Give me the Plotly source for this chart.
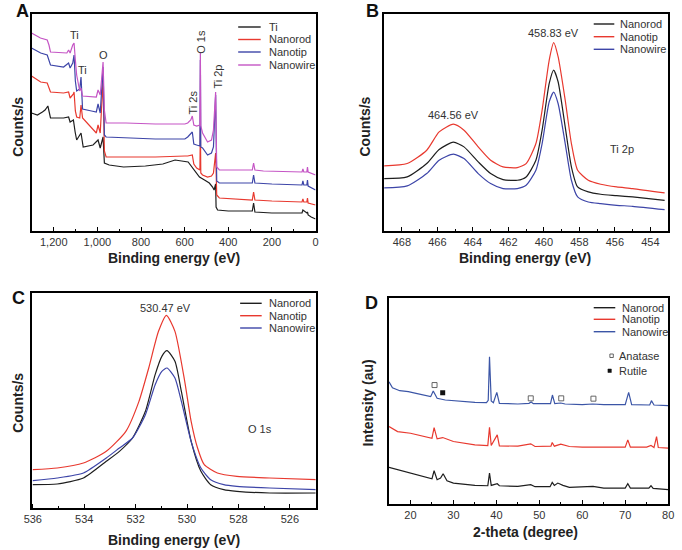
import plotly.graph_objects as go

W, H = 682, 550

# ---------------- Panel A: XPS survey ----------------
a_names = ["Ti", "Nanorod", "Nanotip", "Nanowire"]
a_ti_x = [1302, 1275, 1252, 1240, 1227, 1220, 1215, 1155, 1132, 1125, 1110, 1102, 1095, 1075, 1065, 1020, 997, 987, 974, 968, 946, 880, 780, 700, 644, 584, 562, 546, 532, 509, 487, 472, 465, 458, 456, 449, 400, 290, 284, 278, 200, 100, 62, 58, 40, 37, 34, 20, 0]
a_ti_y = [118, 116, 119, 121, 125, 116, 113, 113, 114, 109, 111, 99, 91, 98, 84, 86, 91, 83, 94, 68, 66, 64, 65, 67, 71, 69, 63, 59, 54, 51, 48, 44, 41, 47, 24, 21, 20, 20, 28, 19, 18, 18, 18, 21, 18, 19, 16, 14, 12]
a_rod_x = [1302, 1260, 1230, 1222, 1215, 1155, 1132, 1125, 1110, 1107, 1101, 1095, 1081, 1075, 1068, 1005, 997, 987, 974, 968, 960, 869, 734, 599, 586, 565, 558, 545, 530, 528, 526, 518, 495, 477, 468, 458, 453, 441, 374, 290, 284, 278, 200, 62, 58, 54, 40, 37, 34, 0]
a_rod_y = [155, 149, 148, 143, 139, 138, 139, 133, 137, 139, 120, 114, 113, 126, 113, 98, 106, 98, 151, 80, 74, 74, 74, 75, 75, 76, 67, 63, 61, 106, 58, 56, 54, 55, 58, 78, 36, 33, 32, 31, 39, 31, 30, 29, 32, 29, 29, 33, 28, 26]
a_tip_x = [1302, 1260, 1230, 1222, 1215, 1155, 1132, 1125, 1113, 1107, 1101, 1095, 1081, 1075, 1068, 1027, 1005, 997, 987, 974, 968, 960, 869, 734, 599, 586, 565, 558, 545, 530, 528, 526, 518, 495, 477, 468, 458, 453, 441, 374, 290, 284, 278, 200, 62, 58, 54, 40, 37, 34, 0]
a_tip_y = [183, 178, 176, 171, 166, 164, 168, 163, 168, 176, 150, 140, 142, 154, 122, 120, 119, 127, 118, 164, 96, 94, 93, 92, 92, 94, 99, 87, 86, 85, 171, 84, 83, 76, 78, 84, 136, 50, 48, 48, 48, 56, 48, 47, 46, 50, 46, 46, 51, 45, 41]
a_wire_x = [1302, 1261, 1230, 1222, 1215, 1153, 1140, 1132, 1125, 1113, 1107, 1101, 1095, 1081, 1075, 1068, 1005, 997, 987, 974, 968, 960, 869, 734, 599, 586, 572, 565, 558, 545, 530, 528, 526, 518, 495, 477, 468, 458, 453, 441, 374, 290, 284, 278, 239, 62, 58, 54, 40, 37, 34, 0]
a_wire_y = [198, 193, 191, 186, 179, 178, 178, 181, 178, 186, 188, 171, 156, 140, 143, 135, 134, 141, 136, 169, 121, 108, 108, 107, 107, 108, 111, 115, 106, 105, 106, 178, 105, 98, 89, 91, 101, 139, 64, 61, 61, 61, 68, 61, 60, 59, 62, 59, 59, 64, 59, 56]

# ---------------- Panel B: Ti 2p ----------------
b_names = ["Nanorod", "Nanotip", "Nanowire"]
b_x = [469.0, 467.7, 466.6, 465.9, 465.1, 464.5, 463.7, 463.0, 462.3, 461.5, 461.0, 460.45, 460.1, 459.7, 459.45, 459.2, 458.8, 458.45, 458.1, 457.5, 456.8, 455.9, 455.0, 453.2]
b_rod = [157, 162, 202, 244, 266, 252, 207, 172, 154, 152, 162, 212, 302, 442, 482, 447, 312, 192, 132, 117, 110, 106, 102, 92]
b_tip = [195, 202, 242, 297, 320, 302, 252, 212, 192, 190, 202, 262, 362, 512, 564, 522, 392, 262, 182, 152, 140, 132, 127, 114]
b_wire = [129, 135, 172, 212, 230, 217, 172, 142, 127, 127, 137, 182, 262, 387, 416, 382, 262, 152, 102, 87, 82, 77, 74, 64]

# ---------------- Panel C: O 1s ----------------
c_names = ["Nanorod", "Nanotip", "Nanowire"]
c_x = [536.0, 535.05, 534.03, 533.14, 532.63, 532.12, 531.62, 531.24, 530.98, 530.78, 530.47, 530.22, 529.84, 529.46, 529.08, 528.57, 528.06, 526.79, 524.98]
c_rod = [70, 72, 90, 140, 170, 210, 290, 400, 455, 472, 440, 350, 200, 110, 70, 55, 50, 45, 45]
c_wire = [82, 90, 105, 150, 180, 210, 280, 370, 410, 420, 390, 320, 200, 120, 85, 70, 65, 60, 55]
c_tip_x = [536.0, 535.05, 534.03, 533.14, 532.38, 531.87, 531.49, 531.11, 530.80, 530.47, 530.09, 529.84, 529.59, 529.33, 528.82, 528.06, 526.79, 524.98]
c_tip = [115, 120, 135, 170, 230, 320, 420, 530, 578, 530, 380, 260, 180, 130, 105, 95, 90, 85]

# ---------------- Panel D: XRD ----------------
d_names = ["Nanorod", "Nanotip", "Nanowire"]
d_rod_x = [15, 17, 20, 23, 25, 25.5, 26.2, 27, 27.6, 28.5, 30, 35, 38, 38.4, 38.8, 40.2, 40.7, 45, 48, 49, 52.5, 53, 53.5, 54.3, 55.5, 57, 62.5, 65, 70, 70.6, 71.2, 75.5, 76, 76.5, 80]
d_rod_y = [110, 103, 93, 81, 76, 100, 73, 78, 91, 70, 63, 56, 55, 93, 56, 61, 55, 53, 58, 52, 52, 65, 56, 63, 56, 50, 53, 48, 48, 61, 48, 48, 55, 47, 43]
d_tip_x = [15, 17, 20, 23, 25, 25.5, 26.2, 27.5, 30, 35, 38, 38.4, 38.8, 40.2, 40.7, 45, 48, 49, 52.7, 53, 53.5, 55, 57, 60, 70, 70.6, 71.2, 75, 76, 76.7, 77.3, 77.7, 80]
d_tip_y = [233, 218, 213, 203, 198, 230, 196, 200, 188, 178, 176, 231, 176, 208, 175, 174, 181, 173, 174, 185, 174, 180, 173, 171, 171, 193, 171, 171, 176, 170, 203, 170, 168]
d_wire_x = [15, 15.8, 17.5, 19.5, 21.3, 23, 24.7, 25.3, 26.2, 28.1, 30, 32.7, 35, 37.7, 38.1, 38.4, 38.8, 39.3, 40.1, 40.7, 43, 45, 47.6, 48.1, 48.6, 50, 52.6, 53.05, 53.6, 55, 56, 60, 62.4, 65, 70, 70.8, 71.5, 75.7, 76.1, 76.7, 80]
d_wire_y = [368, 350, 341, 338, 333, 328, 323, 340, 318, 313, 311, 308, 306, 305, 312, 443, 310, 305, 336, 303, 302, 301, 303, 307, 302, 302, 302, 328, 302, 304, 301, 299, 301, 299, 299, 336, 299, 298, 311, 298, 296]
d_anatase_x = [25.6, 48.0, 55.1, 62.6]
d_anatase_y = [358, 318, 318, 317]
d_rutile_x = [27.5]
d_rutile_y = [335]

BLACK = "#1e1e1e"
RED = "#e8392f"
BLUE = "#3d45a8"
MAG = "#c555c5"
BLUE_D = "#3b55a6"
FONT = "Liberation Sans, Arial, sans-serif"
TXT = "#333333"

fig = go.Figure()


def px_x(p):
    return p / W


def px_y(p):
    return 1 - p / H


def add_line(x, y, color, xa, ya, shape="linear", width=1.2):
    fig.add_trace(go.Scatter(x=x, y=y, mode="lines", xaxis=xa, yaxis=ya,
                             line=dict(color=color, width=width, shape=shape, smoothing=0.6),
                             showlegend=False, hoverinfo="skip"))


# Panel A
add_line(a_ti_x, a_ti_y, BLACK, "x", "y")
add_line(a_rod_x, a_rod_y, RED, "x", "y")
add_line(a_tip_x, a_tip_y, BLUE, "x", "y")
add_line(a_wire_x, a_wire_y, MAG, "x", "y")
# Panel B
add_line(b_x, b_rod, BLACK, "x2", "y2", "spline")
add_line(b_x, b_tip, RED, "x2", "y2", "spline")
add_line(b_x, b_wire, BLUE, "x2", "y2", "spline")
# Panel C
add_line(c_x, c_rod, BLACK, "x3", "y3", "spline")
add_line(c_tip_x, c_tip, RED, "x3", "y3", "spline")
add_line(c_x, c_wire, BLUE, "x3", "y3", "spline")
# Panel D
add_line(d_rod_x, d_rod_y, BLACK, "x4", "y4")
add_line(d_tip_x, d_tip_y, RED, "x4", "y4")
add_line(d_wire_x, d_wire_y, BLUE_D, "x4", "y4")
fig.add_trace(go.Scatter(x=d_anatase_x, y=d_anatase_y, mode="markers", xaxis="x4", yaxis="y4",
                         marker=dict(symbol="square-open", size=5, color="#555555", line=dict(width=0.9)),
                         showlegend=False, hoverinfo="skip"))
fig.add_trace(go.Scatter(x=d_rutile_x, y=d_rutile_y, mode="markers", xaxis="x4", yaxis="y4",
                         marker=dict(symbol="square", size=5, color="#111111"),
                         showlegend=False, hoverinfo="skip"))

# Axes
def xaxis(domain, rng, dtick, minor, fmt=None, anchor="y"):
    d = dict(domain=domain, range=rng, dtick=dtick, tick0=0, ticks="inside", ticklen=4,
             tickwidth=1.2, tickcolor="black", showline=True, linecolor="black", linewidth=1.5,
             mirror=True, showgrid=False, zeroline=False, anchor=anchor,
             tickfont=dict(family=FONT, size=11, color=TXT),
             minor=dict(dtick=minor, tick0=0, ticks="inside", ticklen=2, tickwidth=1.2, tickcolor="black", showgrid=False))
    if fmt:
        d["tickformat"] = fmt
    return d


def yaxis(domain, rng, anchor):
    return dict(domain=domain, range=rng, showticklabels=False, ticks="", showline=True,
                linecolor="black", linewidth=1.5, mirror=True, showgrid=False, zeroline=False,
                anchor=anchor)


xa_dom = [px_x(24), px_x(314)]
xb_dom = [px_x(384), px_x(674)]
xd_dom = [px_x(389), px_x(674)]
ytop_dom = [px_y(231), px_y(14)]
yc_dom = [px_y(508), px_y(293)]
yd_dom = [px_y(504), px_y(298)]

fig.update_layout(
    width=W, height=H, margin=dict(l=0, r=0, t=0, b=0),
    paper_bgcolor="white", plot_bgcolor="white",
    font=dict(family=FONT, color=TXT),
    xaxis=xaxis(xa_dom, [1302, 0], 200, 100, ",d", "y"),
    yaxis=yaxis(ytop_dom, [0, 217], "x"),
    xaxis2=xaxis(xb_dom, [469, 453.0], 2, 1, None, "y2"),
    yaxis2=yaxis(ytop_dom, [0, 650], "x2"),
    xaxis3=xaxis(xa_dom, [536.05, 525], 2, 1, None, "y3"),
    yaxis3=yaxis(yc_dom, [0, 645], "x3"),
    xaxis4=xaxis(xd_dom, [15, 80], 10, 5, None, "y4"),
    yaxis4=yaxis(yd_dom, [0, 620], "x4"),
)

ann = []
shapes = []


def ptext(x, y, text, size=11, bold=False, angle=0, xanchor="center", color=TXT):
    t = f"<b>{text}</b>" if bold else text
    ann.append(dict(x=px_x(x), y=px_y(y), xref="paper", yref="paper", text=t, showarrow=False,
                    textangle=angle, xanchor=xanchor, yanchor="middle",
                    font=dict(family=FONT, size=size, color=color)))


def dtext(x, y, text, xr, yr, size=11, angle=0):
    ann.append(dict(x=x, y=y, xref=xr, yref=yr, text=text, showarrow=False, textangle=angle,
                    xanchor="center", yanchor="middle", font=dict(family=FONT, size=size, color=TXT)))


# Panel letters
ptext(15, 11, "A", 18, True, color="#111")
ptext(372, 11, "B", 18, True, color="#111")
ptext(11, 298, "C", 18, True, color="#111")
ptext(371, 303, "D", 18, True, color="#111")

# Axis titles
ptext(169, 258, "Binding energy (eV)", 14, True, color="#222")
ptext(528, 258, "Binding energy (eV)", 14, True, color="#222")
ptext(169, 540, "Binding energy (eV)", 14, True, color="#222")
ptext(528, 532, "2-theta (degree)", 14, True, color="#222")
ptext(10, 127, "Counts/s", 14, True, angle=-90, color="#222")
ptext(364, 127, "Counts/s", 14, True, angle=-90, color="#222")
ptext(10, 403, "Counts/s", 14, True, angle=-90, color="#222")
ptext(368, 403, "Intensity (au)", 14, True, angle=-90, color="#222")

# Panel A peak labels
dtext(1107, 196, "Ti", "x", "y")
dtext(1070, 161, "Ti", "x", "y")
dtext(973, 176, "O", "x", "y")
dtext(564, 128, "Ti 2s", "x", "y", angle=-90)
dtext(526, 189, "O 1s", "x", "y", angle=-90)
dtext(449, 154, "Ti 2p", "x", "y", angle=-90)
# Panel B labels
dtext(459.45, 592, "458.83 eV", "x2", "y2")
dtext(465.1, 347, "464.56 eV", "x2", "y2")
dtext(455.6, 245, "Ti 2p", "x2", "y2")
# Panel C labels
dtext(530.85, 600, "530.47 eV", "x3", "y3")
dtext(527.17, 238, "O 1s", "x3", "y3")


def legend(x0, x1, ys, names, colors, tx):
    for yy, nm, col in zip(ys, names, colors):
        shapes.append(dict(type="line", xref="paper", yref="paper", x0=px_x(x0), x1=px_x(x1),
                           y0=px_y(yy), y1=px_y(yy), line=dict(color=col, width=1.4)))
        ptext(tx, yy, nm, 11, xanchor="left")


legend(235, 258, [27, 39.5, 52, 65], a_names, [BLACK, RED, BLUE, MAG], 264)
legend(598, 619, [24, 36.7, 49.3], b_names, [BLACK, RED, BLUE], 623)
legend(237, 259, [303.3, 315.7, 328], c_names, [BLACK, RED, BLUE], 264)
legend(598, 620, [307.7, 319.3, 331.7], d_names, [BLACK, RED, BLUE_D], 625)
# Anatase / Rutile key
shapes.append(dict(type="rect", xref="paper", yref="paper", x0=px_x(614.5), x1=px_x(618),
                   y0=px_y(357.5), y1=px_y(354), line=dict(color="#555", width=0.9)))
ptext(622, 356, "Anatase", 11, xanchor="left")
shapes.append(dict(type="rect", xref="paper", yref="paper", x0=px_x(612.5), x1=px_x(616),
                   y0=px_y(372.5), y1=px_y(369), line=dict(color="#111", width=0.5), fillcolor="#111"))
ptext(622, 371, "Rutile", 11, xanchor="left")

fig.update_layout(annotations=ann, shapes=shapes)
fig.write_html("out.html", config={"displayModeBar": False},
               post_script="document.body.style.margin='0';document.body.style.overflow='hidden';")
